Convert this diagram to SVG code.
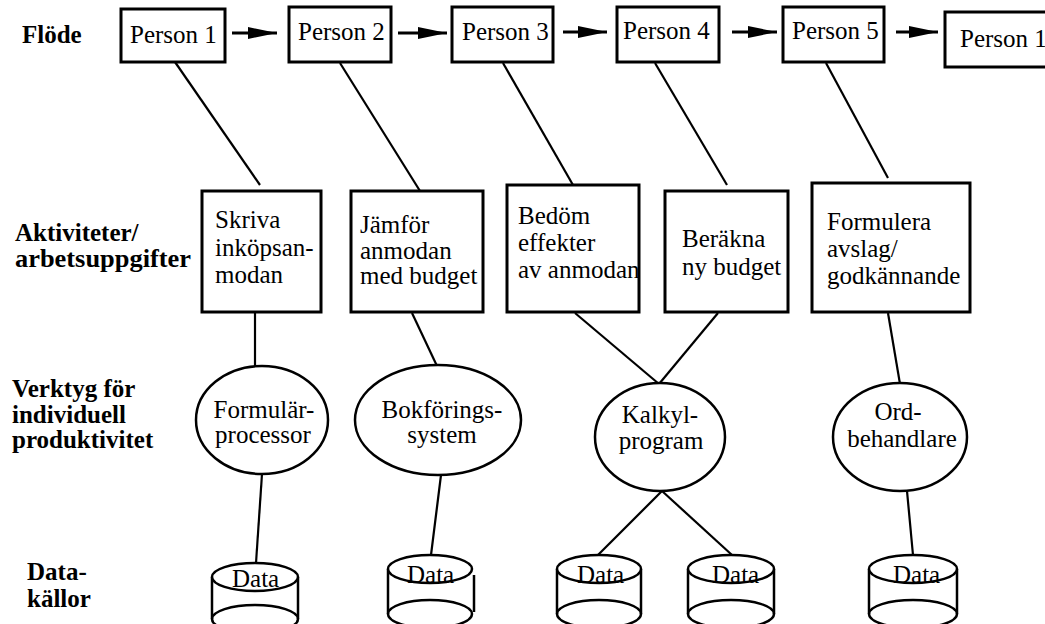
<svg xmlns="http://www.w3.org/2000/svg" width="1045" height="624" viewBox="0 0 1045 624" font-family="'Liberation Serif', 'Times New Roman', serif" font-size="25">
  <style>
    .lbl { font-weight: bold; }
    .mid { text-anchor: middle; }
    .box { fill: #fff; stroke: #000; stroke-width: 3; }
    .ell { fill: #fff; stroke: #000; stroke-width: 2.5; }
    .cyl { fill: #fff; stroke: #000; stroke-width: 2.5; }
    .link { stroke: #000; stroke-width: 2.2; fill: none; }
    .flow { stroke: #000; stroke-width: 3; fill: none; marker-end: url(#head); }
  </style>
  <defs>
    <marker id="head" markerUnits="userSpaceOnUse" markerWidth="29" markerHeight="12" refX="29" refY="6" orient="auto">
      <path d="M0,0 L29,6 L0,12 Z" fill="#000"/>
    </marker>
  </defs>
  <rect width="1045" height="624" fill="#fff"/>

  <!-- row labels -->
  <g id="labels">
    <text class="lbl" x="22" y="43">Flöde</text>
    <text class="lbl" x="15" y="241">Aktiviteter/</text>
    <text class="lbl" x="15" y="267" textLength="176" lengthAdjust="spacingAndGlyphs">arbetsuppgifter</text>
    <text class="lbl" x="12" y="397">Verktyg för</text>
    <text class="lbl" x="12" y="423">individuell</text>
    <text class="lbl" x="12" y="448">produktivitet</text>
    <text class="lbl" x="27" y="580">Data-</text>
    <text class="lbl" x="27" y="607">källor</text>
  </g>

  <!-- connectors -->
  <g id="connectors">
    <line class="flow" x1="232" y1="33" x2="277" y2="33"/>
    <line class="flow" x1="398" y1="33" x2="447" y2="33"/>
    <line class="flow" x1="563" y1="32" x2="607" y2="32"/>
    <line class="flow" x1="732" y1="32" x2="777" y2="32"/>
    <line class="flow" x1="896" y1="32" x2="938" y2="32"/>

    <line class="link" x1="175" y1="62" x2="260" y2="185"/>
    <line class="link" x1="340" y1="63" x2="420" y2="191"/>
    <line class="link" x1="503" y1="63" x2="573" y2="185"/>
    <line class="link" x1="655" y1="63" x2="727" y2="185"/>
    <line class="link" x1="826" y1="63" x2="888" y2="178"/>

    <line class="link" x1="255" y1="313" x2="255" y2="367"/>
    <line class="link" x1="412" y1="313" x2="437" y2="366"/>
    <line class="link" x1="575" y1="313" x2="659" y2="384"/>
    <line class="link" x1="718" y1="313" x2="659" y2="384"/>
    <line class="link" x1="888" y1="313" x2="900" y2="384"/>

    <line class="link" x1="262" y1="474" x2="256" y2="563"/>
    <line class="link" x1="441" y1="475" x2="431" y2="555"/>
    <line class="link" x1="662" y1="491" x2="598" y2="555"/>
    <line class="link" x1="662" y1="491" x2="732" y2="555"/>
    <line class="link" x1="907" y1="491" x2="913" y2="555"/>
  </g>

  <!-- flow: persons -->
  <g id="person1"><rect class="box" x="121" y="9" width="104" height="53"/><text x="130" y="43">Person 1</text></g>
  <g id="person2"><rect class="box" x="289" y="7" width="102" height="55"/><text x="298" y="40">Person 2</text></g>
  <g id="person3"><rect class="box" x="452" y="7" width="101" height="55"/><text x="462" y="40">Person 3</text></g>
  <g id="person4"><rect class="box" x="617" y="7" width="102" height="55"/><text x="623" y="39">Person 4</text></g>
  <g id="person5"><rect class="box" x="783" y="7" width="101" height="55"/><text x="792" y="39">Person 5</text></g>
  <g id="person1b"><rect class="box" x="945" y="12" width="110" height="55"/><text x="960" y="47">Person 1</text></g>

  <!-- activities -->
  <g id="task1">
    <rect class="box" x="202" y="191" width="119" height="121"/>
    <text x="215" y="228">Skriva</text>
    <text x="215" y="256">inköpsan-</text>
    <text x="215" y="283">modan</text>
  </g>
  <g id="task2">
    <rect class="box" x="351" y="191" width="132" height="121"/>
    <text x="360" y="233">Jämför</text>
    <text x="360" y="259">anmodan</text>
    <text x="360" y="284">med budget</text>
  </g>
  <g id="task3">
    <rect class="box" x="507" y="185" width="132" height="127"/>
    <text x="518" y="224">Bedöm</text>
    <text x="518" y="251">effekter</text>
    <text x="518" y="278">av anmodan</text>
  </g>
  <g id="task4">
    <rect class="box" x="665" y="191" width="123" height="121"/>
    <text x="682" y="247">Beräkna</text>
    <text x="682" y="275">ny budget</text>
  </g>
  <g id="task5">
    <rect class="box" x="812" y="183" width="158" height="129"/>
    <text x="827" y="230">Formulera</text>
    <text x="827" y="257">avslag/</text>
    <text x="827" y="284">godkännande</text>
  </g>

  <!-- tools -->
  <g id="tool1">
    <ellipse class="ell" cx="262" cy="420" rx="66" ry="54"/>
    <text class="mid" x="264" y="418">Formulär-</text>
    <text class="mid" x="263" y="443">processor</text>
  </g>
  <g id="tool2">
    <ellipse class="ell" cx="438" cy="420" rx="83" ry="55"/>
    <text class="mid" x="442" y="418">Bokförings-</text>
    <text class="mid" x="442" y="443">system</text>
  </g>
  <g id="tool3">
    <ellipse class="ell" cx="660" cy="437" rx="65" ry="54"/>
    <text class="mid" x="660" y="423">Kalkyl-</text>
    <text class="mid" x="661" y="449">program</text>
  </g>
  <g id="tool4">
    <ellipse class="ell" cx="900" cy="437" rx="67" ry="54"/>
    <text class="mid" x="898" y="420">Ord-</text>
    <text class="mid" x="902" y="447">behandlare</text>
  </g>

  <!-- data sources -->
  <g id="data1">
    <ellipse class="cyl" cx="255" cy="619" rx="43" ry="14"/>
    <line class="cyl" x1="212" y1="577" x2="212" y2="619"/>
    <line class="cyl" x1="298" y1="577" x2="298" y2="619"/>
    <ellipse class="cyl" cx="255" cy="577" rx="43" ry="14"/>
    <text x="232" y="587">Data</text>
  </g>
  <g id="data2">
    <ellipse class="cyl" cx="430" cy="614" rx="42" ry="14"/>
    <line class="cyl" x1="388" y1="569" x2="388" y2="614"/>
    <line class="cyl" x1="474" y1="575" x2="474" y2="612"/>
    <ellipse class="cyl" cx="430" cy="569" rx="42" ry="14"/>
    <text x="407" y="583">Data</text>
  </g>
  <g id="data3">
    <ellipse class="cyl" cx="599" cy="614" rx="42" ry="14"/>
    <line class="cyl" x1="557" y1="569" x2="557" y2="614"/>
    <line class="cyl" x1="641" y1="569" x2="641" y2="614"/>
    <ellipse class="cyl" cx="599" cy="569" rx="42" ry="14"/>
    <text x="577" y="583">Data</text>
  </g>
  <g id="data4">
    <ellipse class="cyl" cx="731" cy="614" rx="43" ry="14"/>
    <line class="cyl" x1="688" y1="569" x2="688" y2="614"/>
    <line class="cyl" x1="774" y1="569" x2="774" y2="614"/>
    <ellipse class="cyl" cx="731" cy="569" rx="43" ry="14"/>
    <text x="712" y="583">Data</text>
  </g>
  <g id="data5">
    <ellipse class="cyl" cx="913" cy="614" rx="44" ry="14"/>
    <line class="cyl" x1="869" y1="569" x2="869" y2="614"/>
    <line class="cyl" x1="957" y1="569" x2="957" y2="614"/>
    <ellipse class="cyl" cx="913" cy="569" rx="44" ry="14"/>
    <text x="893" y="583">Data</text>
  </g>
</svg>
